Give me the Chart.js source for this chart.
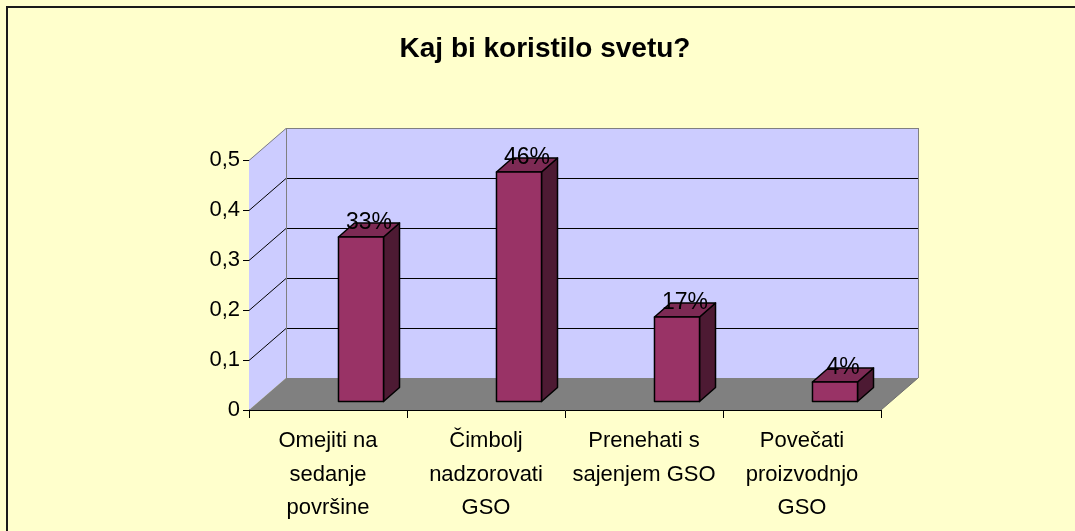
<!DOCTYPE html>
<html>
<head>
<meta charset="utf-8">
<script src="https://cdn.jsdelivr.net/npm/chart.js@4.4.1/dist/chart.umd.min.js"></script>
<style>
  html, body { margin: 0; padding: 0; background: #FFFFCC; overflow: hidden; }
  #wrap { width: 1075px; height: 531px; }
</style>
</head>
<body>
<div id="wrap"><canvas id="c" width="1075" height="531"></canvas></div>
<script>
// ---- data ----
const chartTitle = 'Kaj bi koristilo svetu?';
const categories = [
  ['Omejiti na', 'sedanje', 'površine'],
  ['Čimbolj', 'nadzorovati', 'GSO'],
  ['Prenehati s', 'sajenjem GSO'],
  ['Povečati', 'proizvodnjo', 'GSO']
];
const values = [0.33, 0.46, 0.17, 0.04];
const valueLabels = ['33%', '46%', '17%', '4%'];
const yTickLabels = ['0', '0,1', '0,2', '0,3', '0,4', '0,5'];

// ---- style constants ----
const FONT = "'Liberation Sans', Arial, sans-serif";
const WALL = '#CCCCFF';
const FLOOR = '#808080';
const WALL_EDGE = '#808080';
const BAR_FRONT = '#993366';
const BAR_TOP = '#7D2A54';
const BAR_SIDE = '#4D1A33';
const DEPTH_X = 37, DEPTH_Y = -32;      // wall depth
const BAR_DX = 16, BAR_DY = -14;        // bar depth
const BAR_SHIFT_X = 33, BAR_SHIFT_Y = -8; // bar placement inside depth

const frame = {
  id: 'frame',
  beforeDraw(chart) {
    const ctx = chart.ctx;
    ctx.save();
    ctx.fillStyle = '#FFFFCC';
    ctx.fillRect(0, 0, chart.width, chart.height);
    ctx.strokeStyle = '#1a1a1a';
    ctx.lineWidth = 2;
    ctx.strokeRect(7, 7, chart.width + 50, chart.height + 50);
    ctx.restore();
  }
};

const walls = {
  id: 'walls',
  beforeDatasetsDraw(chart) {
    const ctx = chart.ctx;
    const a = chart.chartArea;
    const ys = chart.scales.y;
    const L = a.left, R = a.right, T = a.top, B = a.bottom;
    ctx.save();
    // side wall
    ctx.fillStyle = WALL;
    ctx.beginPath();
    ctx.moveTo(L, B); ctx.lineTo(L, T); ctx.lineTo(L + DEPTH_X, T + DEPTH_Y); ctx.lineTo(L + DEPTH_X, B + DEPTH_Y);
    ctx.closePath(); ctx.fill();
    // back wall
    ctx.fillRect(L + DEPTH_X, T + DEPTH_Y, R - L, B - T);
    // floor
    ctx.fillStyle = FLOOR;
    ctx.beginPath();
    ctx.moveTo(L, B); ctx.lineTo(R, B); ctx.lineTo(R + DEPTH_X, B + DEPTH_Y); ctx.lineTo(L + DEPTH_X, B + DEPTH_Y);
    ctx.closePath(); ctx.fill();
    // gridlines
    ctx.lineWidth = 1;
    ys.ticks.forEach(t => {
      if (t.value === 0) return;
      const y = Math.round(ys.getPixelForValue(t.value)) + 0.5;
      ctx.strokeStyle = (t.value >= ys.max - 1e-9) ? WALL_EDGE : '#000000';
      ctx.beginPath();
      ctx.moveTo(L, y); ctx.lineTo(L + DEPTH_X, y + DEPTH_Y); ctx.lineTo(R + DEPTH_X, y + DEPTH_Y);
      ctx.stroke();
    });
    // back wall edges
    ctx.strokeStyle = WALL_EDGE;
    ctx.beginPath();
    ctx.moveTo(L + DEPTH_X + 0.5, B + DEPTH_Y); ctx.lineTo(L + DEPTH_X + 0.5, T + DEPTH_Y);
    ctx.moveTo(R + DEPTH_X + 0.5, T + DEPTH_Y); ctx.lineTo(R + DEPTH_X + 0.5, B + DEPTH_Y);
    ctx.stroke();
    ctx.strokeStyle = '#6e6e6e';
    ctx.beginPath();
    ctx.moveTo(R, B); ctx.lineTo(R + DEPTH_X, B + DEPTH_Y);
    ctx.stroke();
    ctx.restore();
  }
};

const bars3d = {
  id: 'bars3d',
  afterDatasetsDraw(chart) {
    const ctx = chart.ctx;
    const meta = chart.getDatasetMeta(0);
    ctx.save();
    ctx.lineWidth = 1.5;
    ctx.strokeStyle = '#000000';
    ctx.lineJoin = 'round';
    meta.data.forEach((el, i) => {
      const p = el.getProps(['x', 'y', 'base', 'width'], true);
      const x0 = p.x - p.width / 2 + BAR_SHIFT_X;
      const x1 = p.x + p.width / 2 + BAR_SHIFT_X;
      const yt = p.y + BAR_SHIFT_Y;
      const yb = p.base + BAR_SHIFT_Y;
      // side
      ctx.fillStyle = BAR_SIDE;
      ctx.beginPath();
      ctx.moveTo(x1, yt); ctx.lineTo(x1 + BAR_DX, yt + BAR_DY); ctx.lineTo(x1 + BAR_DX, yb + BAR_DY); ctx.lineTo(x1, yb);
      ctx.closePath(); ctx.fill(); ctx.stroke();
      // top
      ctx.fillStyle = BAR_TOP;
      ctx.beginPath();
      ctx.moveTo(x0, yt); ctx.lineTo(x1, yt); ctx.lineTo(x1 + BAR_DX, yt + BAR_DY); ctx.lineTo(x0 + BAR_DX, yt + BAR_DY);
      ctx.closePath(); ctx.fill(); ctx.stroke();
      // front
      ctx.fillStyle = BAR_FRONT;
      ctx.beginPath();
      ctx.rect(x0, yt, x1 - x0, yb - yt);
      ctx.fill(); ctx.stroke();
      // value label
      ctx.fillStyle = '#000000';
      ctx.font = '23px ' + FONT;
      ctx.textAlign = 'center';
      ctx.textBaseline = 'middle';
      ctx.fillText(valueLabels[i], (x0 + x1) / 2 + BAR_DX / 2, yt + BAR_DY);
    });
    ctx.restore();
  }
};

new Chart(document.getElementById('c'), {
  type: 'bar',
  data: {
    labels: categories,
    datasets: [{
      data: values,
      backgroundColor: 'rgba(0,0,0,0)',
      borderWidth: 0,
      categoryPercentage: 1,
      barPercentage: 0.285
    }]
  },
  options: {
    responsive: false,
    animation: false,
    devicePixelRatio: 1,
    layout: { padding: { left: 30, right: 15, top: 0, bottom: 0 } },
    plugins: {
      legend: { display: false },
      tooltip: { enabled: false },
      title: {
        display: true,
        text: chartTitle,
        color: '#000000',
        font: { family: FONT, size: 28, weight: 'bold', lineHeight: 1.2 },
        padding: { top: 32, bottom: 94.4 }
      }
    },
    scales: {
      x: {
        grid: { display: true, drawOnChartArea: false, drawTicks: true, tickLength: 8, color: '#000000', offset: true },
        border: { display: true, color: '#000000', width: 1 },
        ticks: { color: '#000000', font: { family: FONT, size: 22, lineHeight: 1.53 }, padding: 6, maxRotation: 0, autoSkip: false },
        afterFit(s) { s.height = 121; }
      },
      y: {
        min: 0, max: 0.5,
        grid: { display: true, drawOnChartArea: false, drawTicks: true, tickLength: 6, color: '#000000' },
        border: { display: true, color: '#000000', width: 1 },
        ticks: {
          stepSize: 0.1,
          color: '#000000',
          font: { family: FONT, size: 22 },
          padding: 3,
          callback: (v, i) => yTickLabels[i]
        },
        afterFit(s) { s.width = 219; }
      },
      rightPad: {
        type: 'linear',
        position: 'right',
        display: true,
        grid: { display: false },
        border: { display: false },
        ticks: { display: false },
        afterFit(s) { s.width = 179; }
      }
    }
  },
  plugins: [frame, walls, bars3d]
});
</script>
</body>
</html>
